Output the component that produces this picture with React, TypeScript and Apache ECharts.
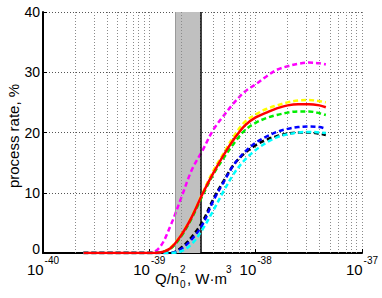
import React, { useEffect, useRef } from "react";
import * as echarts from "echarts";

// x positions (Q/n0^2, W·m^3)
const xValues = [
  2.4e-40, 5.0e-40, 1.0e-39, 1.26e-39, 1.58e-39, 2.0e-39, 2.51e-39, 3.16e-39,
  3.98e-39, 5.01e-39, 6.31e-39, 7.94e-39, 1.0e-38, 1.26e-38, 1.58e-38, 2.0e-38,
  2.51e-38, 3.16e-38, 3.98e-38, 4.57e-38,
];

// process rate, %
const magentaRate = [0, 0, 0, 1.0, 4.5, 9.2, 13.8, 17.0, 20.4, 22.8, 25.0, 26.8, 28.0, 29.3, 30.4, 31.0, 31.4, 31.6, 31.5, 31.3];
const yellowRate = [0, 0, 0, 0.1, 0.9, 3.1, 6.1, 9.9, 13.6, 16.6, 19.5, 21.8, 23.0, 23.9, 24.5, 25.0, 25.3, 25.4, 25.2, 25.0];
const greenRate = [0, 0, 0, 0.1, 0.7, 2.8, 5.8, 9.5, 13.0, 15.8, 18.3, 20.4, 21.6, 22.4, 22.9, 23.3, 23.5, 23.5, 23.2, 22.9];
const blackRate = [0, 0, 0, 0, 0, 0.9, 2.7, 5.2, 8.9, 12.0, 14.8, 16.6, 17.9, 18.8, 19.4, 19.8, 20.0, 20.0, 19.8, 19.6];
const blueRate = [0, 0, 0, 0, 0, 0.7, 2.3, 4.7, 8.6, 11.8, 14.8, 16.8, 18.3, 19.3, 20.1, 20.6, 20.9, 21.0, 20.9, 20.6];
const cyanRate = [0, 0, 0, 0, 0, 0.3, 1.5, 3.9, 7.0, 10.3, 13.3, 15.5, 17.1, 18.3, 19.2, 19.7, 20.0, 20.1, 20.0, 19.9];
const redRate = [0, 0, 0, 0.1, 0.8, 3.0, 6.0, 9.8, 13.2, 16.3, 19.0, 21.2, 22.5, 23.3, 24.0, 24.5, 24.7, 24.7, 24.5, 24.2];

// shaded band and its boundary line
const bandStart = 1.75e-39;
const bandEnd = 3.0e-39;

// axes (decade exponents)
const xMinExp = -40;
const xMaxExp = -37;
const yMin = 0;
const yMax = 40;
const yInterval = 10;
const decades = [1e-40, 1e-39, 1e-38];
const minorMultipliers = [2, 3, 4, 5, 6, 7, 8, 9];

const FONT = "'Liberation Sans', Arial, Helvetica, sans-serif";
const lg = (v: number) => Math.log10(v);

export default function App() {
  const ref = useRef<HTMLDivElement>(null);

  useEffect(() => {
    const chart = echarts.init(ref.current!, null, { renderer: "svg" });

    const pairs = (ys: number[]) => xValues.map((x, i) => [lg(x), ys[i]]);
    const minorLines: any[] = [];
    decades.forEach((d) =>
      minorMultipliers.forEach((m) => minorLines.push({ xAxis: lg(d * m) }))
    );

    const curve = (name: string, ys: number[], color: string, dashed: boolean, z: number) => ({
      name,
      type: "line",
      data: pairs(ys),
      smooth: 0.35,
      showSymbol: false,
      symbol: "none",
      z,
      lineStyle: { color, width: 2.5, type: dashed ? [5, 3] : "solid", cap: "butt" },
    });

    const option: any = {
      animation: false,
      grid: { left: 43, right: 20, top: 12, bottom: 45, containLabel: false },
      xAxis: {
        type: "value",
        min: xMinExp,
        max: xMaxExp,
        interval: 1,
        axisLine: { show: true, onZero: false, lineStyle: { color: "#000", width: 2 } },
        axisTick: { show: true, inside: true, length: 4, lineStyle: { color: "#000", width: 1 } },
        splitLine: { show: true, lineStyle: { color: "#8a8a8a", type: [1, 2], width: 1 } },
        axisLabel: {
          margin: 2,
          formatter: (v: number) => `{b|10}{s|${Math.round(v)}}`,
          rich: {
            b: { fontSize: 15, fontFamily: FONT, color: "#000", lineHeight: 22, verticalAlign: "bottom" },
            s: { fontSize: 10, fontFamily: FONT, color: "#000", lineHeight: 22, verticalAlign: "top", padding: [0, 0, 0, 1] },
          },
        },
      },
      yAxis: {
        type: "value",
        min: yMin,
        max: yMax,
        interval: yInterval,
        axisLine: { show: true, lineStyle: { color: "#000", width: 2 } },
        axisTick: { show: true, inside: true, length: 4, lineStyle: { color: "#000", width: 1 } },
        splitLine: { show: true, lineStyle: { color: "#555", type: [1, 2], width: 1 } },
        axisLabel: {
          margin: 3,
          color: "#000",
          fontSize: 14,
          fontFamily: FONT,
          formatter: (v: number) => (v === 0 ? `{z|${v}}` : `${v}`),
          rich: { z: { fontSize: 14, fontFamily: FONT, color: "#000", padding: [0, 0, 8, 0] } },
        },
      },
      graphic: [
        {
          type: "text",
          x: 13,
          y: 136,
          rotation: Math.PI / 2,
          style: { text: "process rate, %", font: `15px ${FONT}`, fill: "#000", align: "center", verticalAlign: "middle" },
        },
        { type: "text", x: 155, y: 286, style: { text: "Q/n", font: `15px ${FONT}`, fill: "#000", align: "left", verticalAlign: "bottom" } },
        { type: "text", x: 180, y: 289, style: { text: "0", font: `10px ${FONT}`, fill: "#000", align: "left", verticalAlign: "bottom" } },
        { type: "text", x: 180, y: 264, style: { text: "2", font: `10px ${FONT}`, fill: "#000", align: "left", verticalAlign: "top" } },
        { type: "text", x: 187, y: 286, style: { text: ", W\u00b7m", font: `15px ${FONT}`, fill: "#000", align: "left", verticalAlign: "bottom" } },
        { type: "text", x: 226, y: 264, style: { text: "3", font: `10px ${FONT}`, fill: "#000", align: "left", verticalAlign: "top" } },
      ],
      series: [
        {
          name: "band",
          type: "line",
          data: [],
          z: 1,
          silent: true,
          markArea: {
            silent: true,
            itemStyle: { color: "#c0c0c0", opacity: 1 },
            data: [[{ xAxis: lg(bandStart) }, { xAxis: lg(bandEnd) }]],
          },
          markLine: {
            silent: true,
            symbol: ["none", "none"],
            label: { show: false },
            lineStyle: { color: "#9a9a9a", type: "solid", width: 1 },
            data: [{ xAxis: lg(bandStart) }],
          },
        },
        {
          name: "minorGrid",
          type: "line",
          data: [],
          z: 2,
          silent: true,
          markLine: {
            silent: true,
            symbol: ["none", "none"],
            label: { show: false },
            lineStyle: { color: "#8a8a8a", type: [1, 2], width: 1 },
            data: minorLines,
          },
        },
        {
          name: "edge",
          type: "line",
          data: [],
          z: 3,
          silent: true,
          markLine: {
            silent: true,
            symbol: ["none", "none"],
            label: { show: false },
            lineStyle: { color: "#000", type: "solid", width: 1.5 },
            data: [{ xAxis: lg(bandEnd) }],
          },
        },
        curve("magenta", magentaRate, "#ff00ff", true, 4),
        curve("yellow", yellowRate, "#ffff00", true, 5),
        curve("green", greenRate, "#00ee00", true, 6),
        curve("black", blackRate, "#000000", true, 7),
        curve("blue", blueRate, "#0000ff", true, 8),
        curve("cyan", cyanRate, "#00ffff", true, 9),
        curve("red", redRate, "#ff0000", false, 10),
      ],
    };

    chart.setOption(option);
    return () => chart.dispose();
  }, []);

  return (
    <div
      ref={ref}
      style={{ position: "fixed", left: 0, top: 0, width: 382, height: 298, background: "#fff" }}
    />
  );
}
